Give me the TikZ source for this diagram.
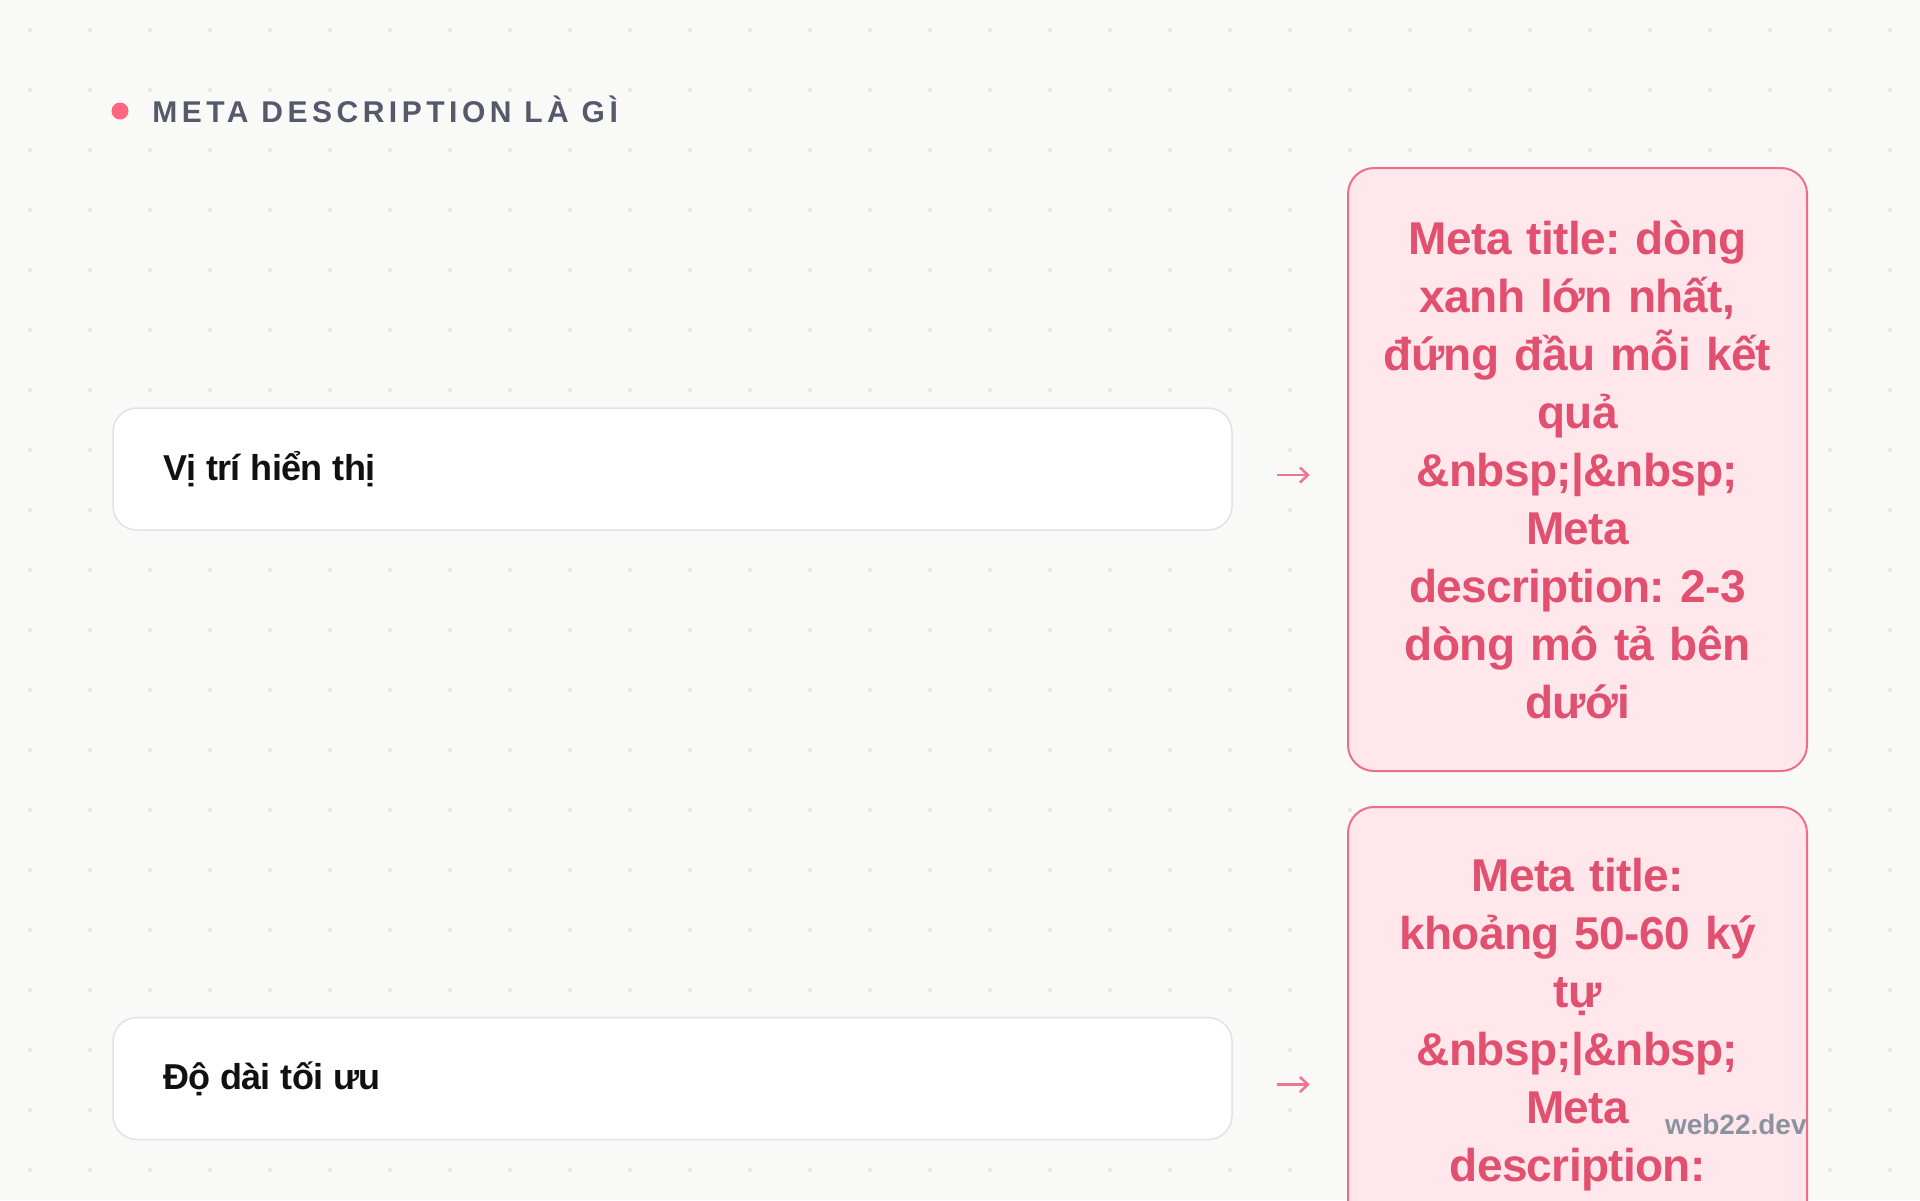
\documentclass[tikz,border=0pt]{standalone}
\usepackage{fontspec}
\setmainfont{Liberation Sans}
\usepackage{tikz}
\usetikzlibrary{arrows.meta,positioning}
\frenchspacing

\definecolor{paperBg}{RGB}{249,249,247}
\definecolor{gridDot}{RGB}{232,232,230}
\definecolor{titleInk}{RGB}{85,90,106}
\definecolor{titlePink}{RGB}{255,102,128}
\definecolor{rowLine}{RGB}{226,226,230}
\definecolor{rowInk}{RGB}{17,17,17}
\definecolor{pinkFill}{RGB}{255,231,236}
\definecolor{pinkLine}{RGB}{238,110,136}
\definecolor{pinkInk}{RGB}{226,80,112}
\definecolor{arrowPink}{RGB}{240,117,144}
\definecolor{wmInk}{RGB}{140,147,160}

\protected\def\rowgap{\spaceskip=5pt plus 1pt\relax}

\tikzset{
    rowbox/.style={draw=rowLine, fill=white, line width=0.75pt, rounded corners=12pt,
        minimum height=61pt, text width=509.5pt, inner xsep=25pt, align=left,
        text=rowInk, font=\fontsize{18pt}{22pt}\selectfont\bfseries\addfontfeatures{LetterSpace=-2},
        execute at begin node=\rowgap},
    pinkbox/.style={draw=pinkLine, fill=pinkFill, line width=1pt, rounded corners=13pt,
        minimum width=229.5pt, minimum height=301.5pt, text width=210pt, inner xsep=9.75pt,
        align=center, text=pinkInk,
        font=\fontsize{23pt}{29pt}\selectfont\bfseries\addfontfeatures{LetterSpace=-1.5}},
    pinktext/.style={inner sep=0pt, text width=210pt, align=center, text=pinkInk,
        font=\fontsize{23pt}{29pt}\selectfont\bfseries\addfontfeatures{LetterSpace=-1.5}},
    flow/.style={draw=arrowPink, line width=1.25pt, -{Straight Barb[length=4pt,width=7.5pt]}},
    titletext/.style={text=titleInk, inner sep=0pt,
        font=\fontsize{15pt}{18pt}\selectfont\bfseries\addfontfeatures{LetterSpace=15}},
    titledot/.style={circle, fill=titlePink, inner sep=0pt, minimum size=8.5pt},
    wmtext/.style={text=wmInk, inner sep=0pt, font=\fontsize{14pt}{16pt}\selectfont\bfseries}
}

\begin{document}
\begin{tikzpicture}[x=0.5pt, y=-0.5pt]
            \useasboundingbox (0,0) rectangle (1920,1200);
            \clip (0,0) rectangle (1920,1200);
            \fill[paperBg] (0,0) rectangle (1920,1200);
            \foreach \x in {30,90,...,1890}
                \foreach \y in {30,90,...,1170}
                    \fill[gridDot] (\x-1.6,\y-1.6) rectangle ++(3.2,3.2);

            % heading
            \node[titledot] (tdot) at (120,111) {};
            \node[titletext, anchor=base west] (title) at (152,122) {META DESCRIPTION LÀ GÌ};

            % left rows
            \node[rowbox] (vitri) at (672.5,469) {Vị trí hiển thị};
            \node[rowbox] (dodai) at (672.5,1078.5) {Độ dài tối ưu};

            % right notes
            \node[pinkbox] (vitri_r) at (1577.5,469.5) {Meta title: dòng\\ xanh lớn nhất,\\ đứng đầu mỗi kết\\ quả\\ \&nbsp;|\&nbsp;\\ Meta\\ description: 2-3\\ dòng mô tả bên\\ dưới};
            \node[pinkbox, anchor=north, minimum height=300pt] (dodai_r) at (1577.5,806) {};
            \node[pinktext, below=26pt of dodai_r.north] (dodai_t) {Meta title:\\ khoảng 50-60 ký\\ tự\\ \&nbsp;|\&nbsp;\\ Meta\\ description:};

            \coordinate (a1) at ([shift={(44,6)}]vitri.east);
            \coordinate (b1) at ([shift={(77,6)}]vitri.east);
            \coordinate (a2) at ([shift={(44,6)}]dodai.east);
            \coordinate (b2) at ([shift={(77,6)}]dodai.east);
            \draw[flow] (a1) -- (b1);
            \draw[flow] (a2) -- (b2);

            \node[wmtext, anchor=east] (wm) at (1807,1124) {web22.dev};
\end{tikzpicture}
\end{document}
